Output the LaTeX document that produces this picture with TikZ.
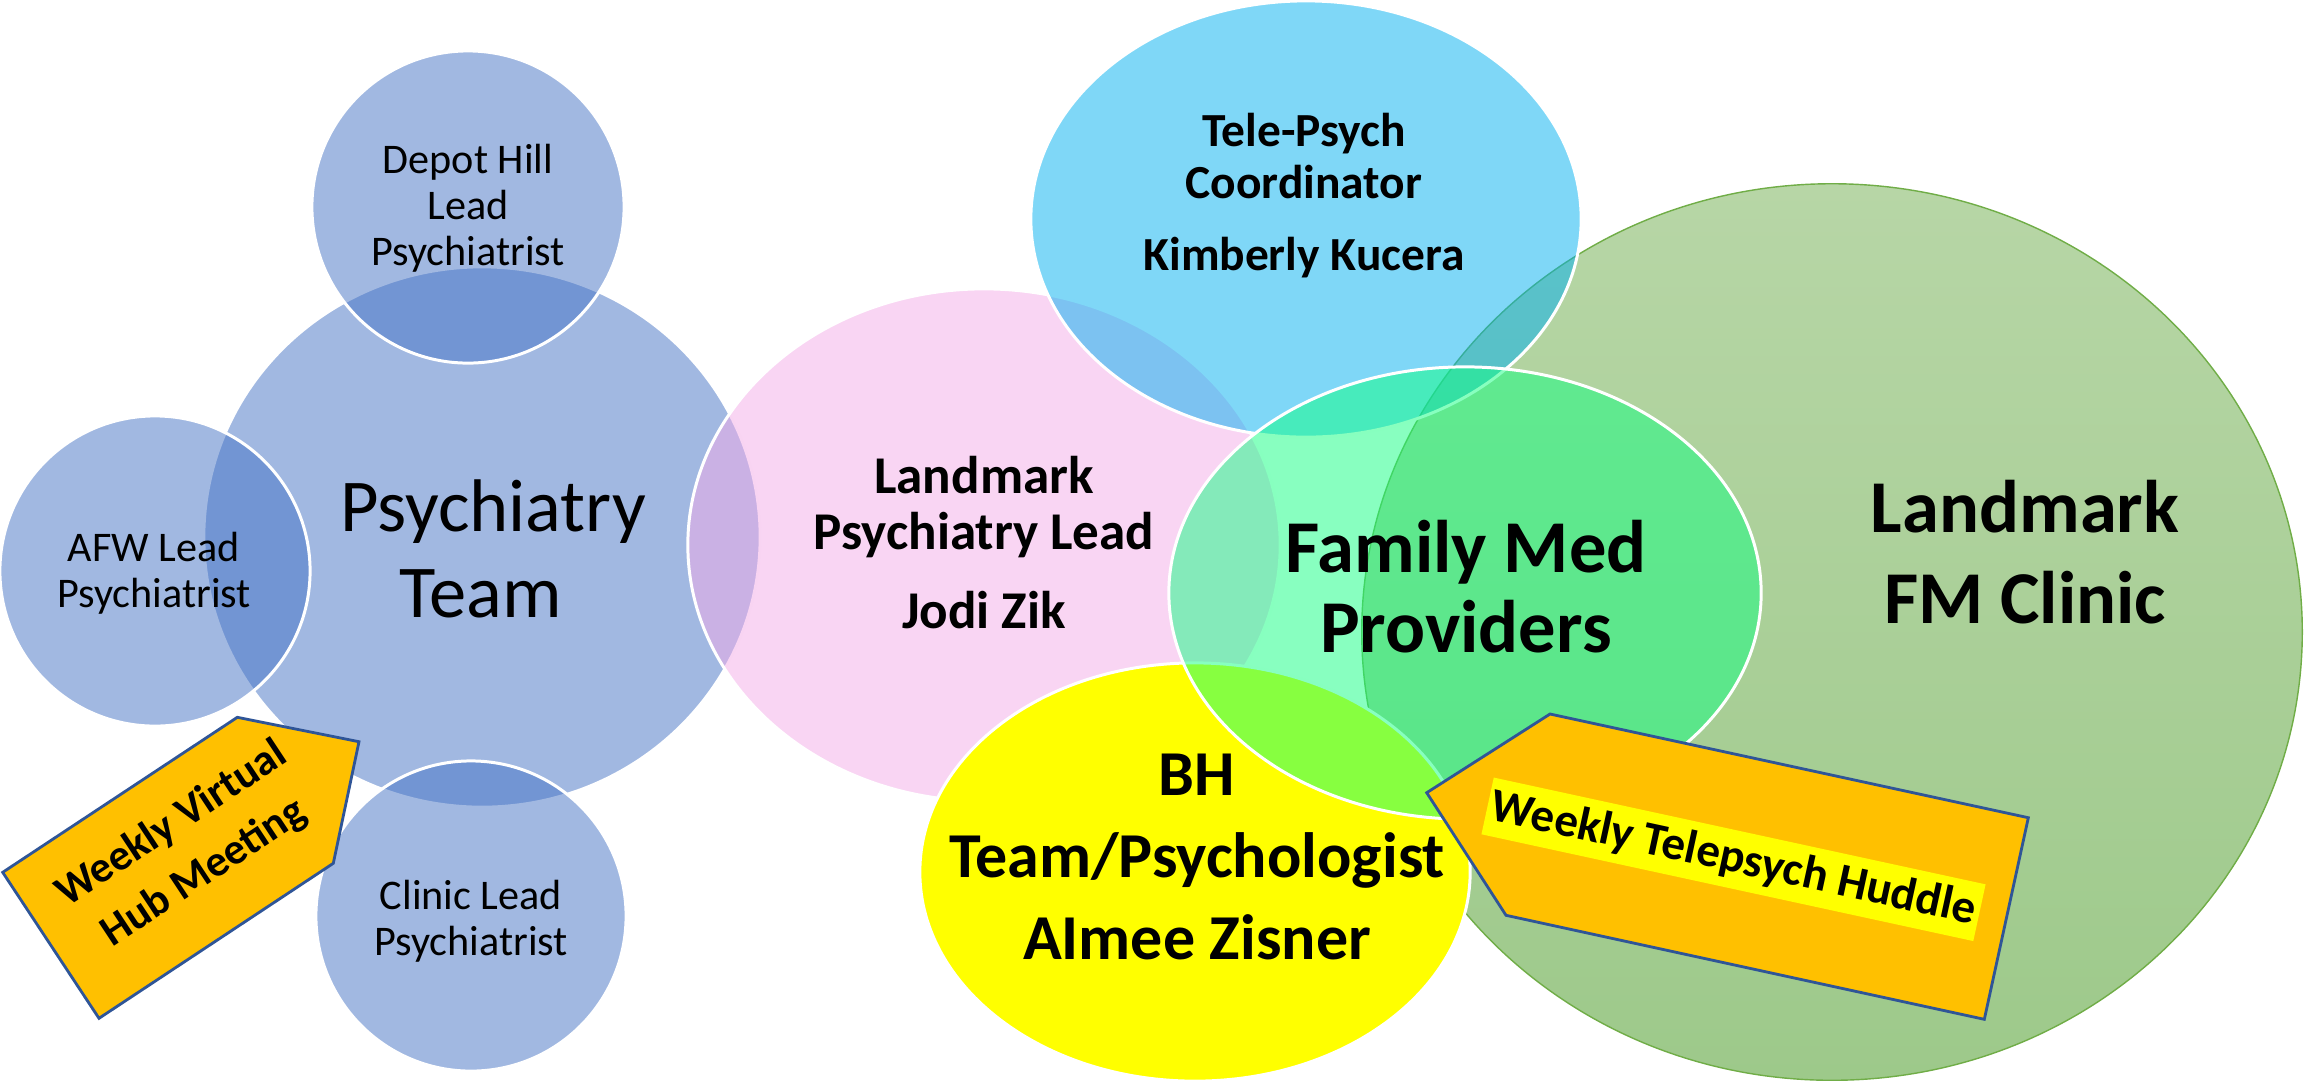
\documentclass[tikz,border=0pt]{standalone}
\usepackage{fontspec}
\setmainfont{Carlito}
\usetikzlibrary{shapes.geometric}

\definecolor{psyblue}{HTML}{4472C4}
\definecolor{lmpink}{RGB}{243,171,231}
\definecolor{teleblue}{HTML}{00B0F0}
\definecolor{fmgreen}{RGB}{17,255,129}
\definecolor{bhyellow}{HTML}{FFFF00}
\definecolor{clinictop}{RGB}{183,214,166}
\definecolor{clinicbot}{RGB}{157,201,138}
\definecolor{clinicedge}{HTML}{70AD47}
\definecolor{tagfill}{HTML}{FFC000}
\definecolor{tagedge}{HTML}{2F5597}

\begin{document}
\begin{tikzpicture}[x=0.01cm, y=-0.01cm,
  venn/.style={ellipse, inner sep=0pt, outer sep=0pt, draw=white, line width=0.85pt},
  soft/.style={venn, fill opacity=0.5},
  lbl/.style={inner sep=0pt, anchor=base, text=black},
  smalltxt/.style={lbl, font=\fontsize{12}{13}\selectfont},
  hugetxt/.style={lbl, font=\fontsize{21.2}{25}\selectfont},
  boldmid/.style={lbl, font=\bfseries\fontsize{13.5}{15}\selectfont},
  boldmid2/.style={lbl, font=\bfseries\fontsize{15.1}{17}\selectfont},
  boldbig/.style={lbl, font=\bfseries\fontsize{21.2}{25}\selectfont},
  boldbh/.style={lbl, font=\bfseries\fontsize{18.2}{22}\selectfont},
  tagshape/.style={fill=tagfill, draw=tagedge, line width=0.8pt, line join=miter},
  tagtxt/.style={inner sep=0pt, text=black, font=\bfseries\fontsize{13.4}{16.4}\selectfont}
]
\useasboundingbox (0,0) rectangle (2304,1081);

% psychiatry cluster
\node[soft, fill=psyblue, minimum width=5.56cm, minimum height=5.40cm] (psych) at (482,537) {};
\node[soft, fill=psyblue, minimum width=3.12cm, minimum height=3.12cm] (depot) at (468,207) {};
\node[soft, fill=psyblue, minimum width=3.10cm, minimum height=3.10cm] (afw) at (155,571) {};
\node[soft, fill=psyblue, minimum width=3.10cm, minimum height=3.10cm] (clinic) at (471,916) {};

% landmark psychiatry lead
\node[soft, fill=lmpink, minimum width=5.92cm, minimum height=5.12cm] (lpl) at (984,545) {};

% landmark family medicine clinic
\node[ellipse, inner sep=0pt, outer sep=0pt, draw=clinicedge, line width=0.4pt,
      top color=clinictop, bottom color=clinicbot,
      minimum width=9.40cm, minimum height=8.96cm] (fmclinic) at (1832,632) {};

% tele-psych coordinator
\node[soft, fill=teleblue, minimum width=5.50cm, minimum height=4.36cm] (tele) at (1306,219) {};

% behavioural health team
\node[venn, fill=bhyellow, minimum width=5.50cm, minimum height=4.18cm] (bh) at (1195,872) {};

% family medicine providers
\node[soft, fill=fmgreen, minimum width=5.92cm, minimum height=4.52cm] (fmp) at (1465,593) {};

% labels
\node[smalltxt] (depot1) at (468,173) {Depot Hill};
\node[smalltxt] (depot2) at (468,219) {Lead};
\node[smalltxt] (depot3) at (468,265) {Psychiatrist};
\node[smalltxt] (afw1) at (154,561) {AFW Lead};
\node[smalltxt] (afw2) at (154,607) {Psychiatrist};
\node[smalltxt] (clinic1) at (471,909) {Clinic Lead};
\node[smalltxt] (clinic2) at (471,955) {Psychiatrist};
\node[hugetxt] (psych1) at (493,531) {Psychiatry};
\node[hugetxt] (psych2) at (481,617) {Team};

\node[boldmid] (tele1) at (1304,146) {Tele-Psych};
\node[boldmid] (tele2) at (1304,198) {Coordinator};
\node[boldmid] (tele3) at (1304,270) {Kimberly Kucera};

\node[boldmid2] (lpl1) at (984,493) {Landmark};
\node[boldmid2] (lpl2) at (984,549) {Psychiatry Lead};
\node[boldmid2] (lpl3) at (984,628) {Jodi Zik};

\node[boldbig] (fmp1) at (1466,572) {Family Med};
\node[boldbig] (fmp2) at (1466,652) {Providers};

\node[boldbig] (fmc1) at (2025,532) {Landmark};
\node[boldbig] (fmc2) at (2025,623) {FM Clinic};

\node[boldbh] (bh1) at (1197,795) {BH};
\node[boldbh] (bh2) at (1197,877) {Team/Psychologist};
\node[boldbh] (bh3) at (1197,959) {AImee Zisner};

% weekly virtual hub meeting tag
\coordinate (hubA) at (2.7,872.3);
\coordinate (hubB) at (237.3,717.3);
\coordinate (hubTip) at (359,741.7);
\coordinate (hubC) at (333.3,863.3);
\coordinate (hubD) at (99,1018.3);
\draw[tagshape] (hubA) -- (hubB) -- (hubTip) -- (hubC) -- (hubD) -- cycle;
\node[tagtxt, font=\bfseries\fontsize{12.4}{16.6}\selectfont, align=center, rotate=33.45] (hubtxt) at (188,849) {Weekly Virtual\\Hub Meeting};

% weekly telepsych huddle tag
\coordinate (hudTip) at (1426.7,792.7);
\coordinate (hudA) at (1550,714);
\coordinate (hudB) at (2028.3,817.7);
\coordinate (hudC) at (1984.3,1019.3);
\coordinate (hudD) at (1506,915.3);
\draw[tagshape] (hudTip) -- (hudA) -- (hudB) -- (hudC) -- (hudD) -- cycle;
\node[tagtxt, fill=bhyellow, minimum width=5.03cm, minimum height=0.58cm, rotate=-12.25] (hudtxt) at (1733.5,859.3) {Weekly Telepsych Huddle};
\end{tikzpicture}
\end{document}
